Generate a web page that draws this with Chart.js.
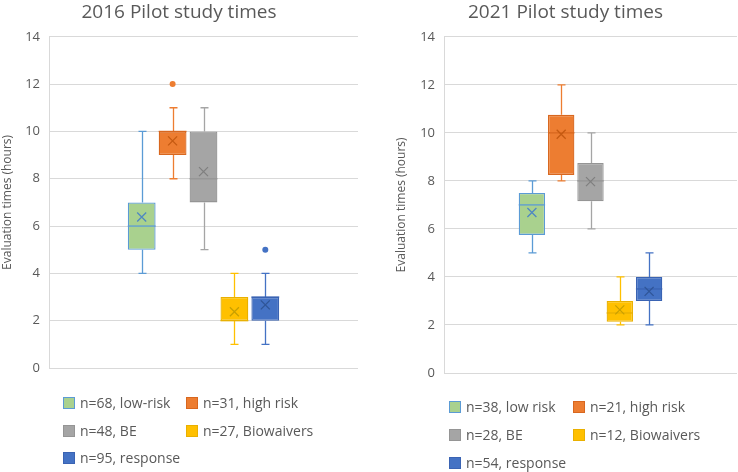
<!DOCTYPE html>
<html>
<head>
<meta charset="utf-8">
<script src="https://cdn.jsdelivr.net/npm/chart.js@4"></script>
<style>
  body { margin: 0; background: #fff; width: 738px; height: 472px; overflow: hidden; position: relative; font-family: "Open Sans", sans-serif; }
  .wrap { position: absolute; top: 0; height: 472px; }
  .legend-item { position: absolute; font-size: 14px; color: #595959; white-space: nowrap; line-height: 16px; }
  .legend-item span.sq { position: absolute; left: 0; top: 1px; width: 12px; height: 12px; box-sizing: border-box; border: 1.5px solid; }
  .legend-item span.tx { position: absolute; left: 17px; top: -1px; }
</style>
</head>
<body>
<div class="wrap" style="left:0;width:369px"><canvas id="chart2016" width="369" height="472"></canvas></div>
<div class="wrap" style="left:370px;width:368px"><canvas id="chart2021" width="368" height="472"></canvas></div>
<div id="legends"></div>
<script>
// 2016 pilot study
const labels2016 = ['n=68, low-risk', 'n=31, high risk', 'n=48, BE', 'n=27, Biowaivers', 'n=95, response'];
const min2016 = [4, 8, 5, 1, 1];
const q1_2016 = [5, 9, 7, 2, 2];
const median2016 = [6, 10, 8, 2, 3];
const q3_2016 = [7, 10, 10, 3, 3];
const max2016 = [10, 11, 11, 4, 4];
const mean2016 = [6.38, 9.6, 8.3, 2.38, 2.67];
const outliers2016 = [[], [12], [], [], [5]];

// 2021 pilot study
const labels2021 = ['n=38, low risk', 'n=21, high risk', 'n=28, BE', 'n=12, Biowaivers', 'n=54, response'];
const min2021 = [5, 8, 6, 2, 2];
const q1_2021 = [5.75, 8.25, 7.15, 2.13, 3];
const median2021 = [7, 10, 8, 2.5, 3.5];
const q3_2021 = [7.5, 10.75, 8.75, 3, 4];
const max2021 = [8, 12, 10, 4, 5];
const mean2021 = [6.68, 9.94, 7.97, 2.63, 3.4];
const outliers2021 = [[], [], [], [], []];

const yTicks = [0, 2, 4, 6, 8, 10, 12, 14];

const fillColors = ['#a9d18e', '#ed7d31', '#a5a5a5', '#ffc000', '#4472c4'];
const lineColors = ['#5b9bd5', '#ed7d31', '#a5a5a5', '#ffc000', '#4472c4'];
const edgeColors = ['#5b9bd5', '#d8671f', '#959595', '#e9b000', '#3a63b3'];
const markColors = ['#4f87c2', '#c55a11', '#7f7f7f', '#c9a000', '#2f5597'];

const boxExtras = {
    id: 'boxExtras',
    beforeDatasetsDraw(chart, args, opts) {
        const ctx = chart.ctx;
        const y = chart.scales.y;
        ctx.save();
        ctx.lineWidth = 1.3;
        chart.data.datasets.forEach((ds, i) => {
            const bar = chart.getDatasetMeta(i).data[0];
            const x = Math.round(bar.x) + 0.5;
            const cap = 4;
            ctx.strokeStyle = lineColors[i];
            const yMin = y.getPixelForValue(opts.min[i]);
            const yMax = y.getPixelForValue(opts.max[i]);
            const yQ1 = y.getPixelForValue(ds.data[0][0]);
            const yQ3 = y.getPixelForValue(ds.data[0][1]);
            ctx.beginPath();
            ctx.moveTo(x, yQ1); ctx.lineTo(x, yMin);
            ctx.moveTo(x - cap, yMin); ctx.lineTo(x + cap, yMin);
            ctx.moveTo(x, yQ3); ctx.lineTo(x, yMax);
            ctx.moveTo(x - cap, yMax); ctx.lineTo(x + cap, yMax);
            ctx.stroke();
        });
        ctx.restore();
    },
    afterDatasetsDraw(chart, args, opts) {
        const ctx = chart.ctx;
        const y = chart.scales.y;
        ctx.save();
        chart.data.datasets.forEach((ds, i) => {
            const bar = chart.getDatasetMeta(i).data[0];
            const x = bar.x;
            const half = bar.width / 2;
            // median
            ctx.strokeStyle = edgeColors[i];
            ctx.lineWidth = 1.3;
            const yMed = y.getPixelForValue(opts.median[i]);
            ctx.beginPath();
            ctx.moveTo(x - half, yMed); ctx.lineTo(x + half, yMed);
            ctx.stroke();
            // mean marker
            const yMean = y.getPixelForValue(opts.mean[i]);
            const r = 4.5;
            ctx.strokeStyle = markColors[i];
            ctx.lineWidth = 1.3;
            ctx.beginPath();
            ctx.moveTo(x - r, yMean - r); ctx.lineTo(x + r, yMean + r);
            ctx.moveTo(x - r, yMean + r); ctx.lineTo(x + r, yMean - r);
            ctx.stroke();
            // outliers
            ctx.fillStyle = fillColors[i];
            opts.outliers[i].forEach(v => {
                ctx.beginPath();
                ctx.arc(x, y.getPixelForValue(v), 3, 0, Math.PI * 2);
                ctx.fill();
            });
        });
        ctx.restore();
    }
};

function makeChart(id, title, labels, q1, q3, stats, pad, axisWidth) {
    const datasets = labels.map((name, i) => ({
        label: name,
        data: [[q1[i], q3[i]]],
        backgroundColor: fillColors[i],
        borderColor: edgeColors[i],
        borderWidth: 1.3,
        borderSkipped: false
    }));
    return new Chart(document.getElementById(id), {
        type: 'bar',
        data: { labels: [''], datasets: datasets },
        plugins: [boxExtras],
        options: {
            responsive: false,
            animation: false,
            categoryPercentage: 0.5,
            barPercentage: 0.9,
            layout: { padding: pad },
            plugins: {
                legend: { display: false },
                tooltip: { enabled: false },
                title: {
                    display: true,
                    text: title,
                    color: '#595959',
                    font: { family: 'Open Sans', size: 19, weight: 'normal' },
                    padding: { top: 1, bottom: 13 }
                },
                boxExtras: stats
            },
            scales: {
                x: { display: false },
                y: {
                    min: 0,
                    max: 14,
                    afterBuildTicks: s => { s.ticks = yTicks.map(v => ({ value: v })); },
                    afterFit: s => { s.width = axisWidth; },
                    grid: { color: '#d9d9d9', drawTicks: false },
                    border: { display: true, color: '#d9d9d9' },
                    ticks: { color: '#595959', font: { family: 'Open Sans', size: 13 }, padding: 9 },
                    title: {
                        display: true,
                        text: 'Evaluation times (hours)',
                        color: '#595959',
                        font: { family: 'Open Sans', size: 12 },
                        padding: 0
                    }
                }
            }
        }
    });
}

makeChart('chart2016', '2016 Pilot study times', labels2016, q1_2016, q3_2016,
    { min: min2016, median: median2016, max: max2016, mean: mean2016, outliers: outliers2016 },
    { left: 0, right: 11, top: 0, bottom: 104 }, 49);
makeChart('chart2021', '2021 Pilot study times', labels2021, q1_2021, q3_2021,
    { min: min2021, median: median2021, max: max2021, mean: mean2021, outliers: outliers2021 },
    { left: 24, right: 1, top: 0, bottom: 99 }, 50);

// legends laid out as in the reference (two columns, three rows)
function buildLegend(labels, left, col2, rows) {
    const holder = document.getElementById('legends');
    labels.forEach((name, i) => {
        const div = document.createElement('div');
        div.className = 'legend-item';
        div.style.left = (i % 2 === 0 ? left : col2) + 'px';
        div.style.top = (rows[Math.floor(i / 2)] - 7) + 'px';
        div.innerHTML = '<span class="sq" style="background:' + fillColors[i] + ';border-color:' + edgeColors[i] + '"></span><span class="tx"></span>';
        div.querySelector('.tx').textContent = name;
        holder.appendChild(div);
    });
}
buildLegend(labels2016, 63, 186, [403, 431, 458]);
buildLegend(labels2021, 449, 573, [407, 435, 463]);
</script>
</body>
</html>
